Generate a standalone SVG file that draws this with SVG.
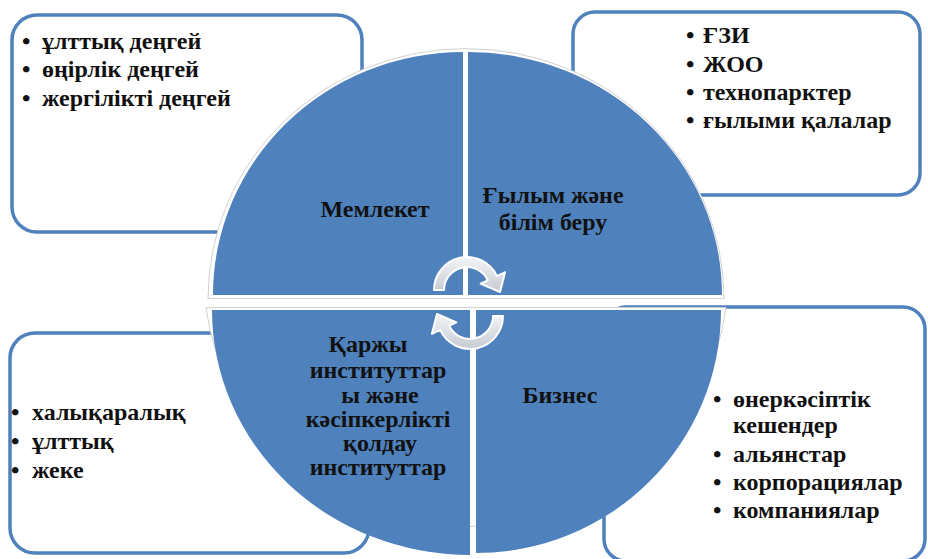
<svg xmlns="http://www.w3.org/2000/svg" width="928" height="559" viewBox="0 0 928 559" font-family="Liberation Serif, serif">
<defs>
<linearGradient id="arrowGrad" x1="0" y1="0" x2="0" y2="1">
<stop offset="0" stop-color="#f4f5f7"/>
<stop offset="1" stop-color="#c6cad2"/>
</linearGradient>
<style>
.box{fill:#ffffff;stroke:#4f81bd;stroke-width:3.5}
.quad{fill:#4f81bd}
.half{fill:#ffffff;stroke:#d2d2d2;stroke-width:1}
.arrow{fill:url(#arrowGrad);stroke:#ffffff;stroke-width:2;stroke-linejoin:round}
.t{font-weight:bold;font-size:24px;fill:#111111}
.c{text-anchor:middle}
</style>
</defs>
<rect width="928" height="559" fill="#ffffff"/>

<g id="box-top-left">
<rect class="box" x="12" y="15" width="350" height="217" rx="25"/>
<text class="t" x="22" y="49">•</text><text class="t" x="42" y="49">ұлттық деңгей</text>
<text class="t" x="22" y="77">•</text><text class="t" x="42" y="77">өңірлік деңгей</text>
<text class="t" x="22" y="106">•</text><text class="t" x="42" y="106">жергілікті деңгей</text>
</g>

<g id="box-top-right">
<rect class="box" x="573" y="12" width="347" height="183" rx="22"/>
<text class="t" x="686" y="43">•</text><text class="t" x="703" y="43">ҒЗИ</text>
<text class="t" x="686" y="72">•</text><text class="t" x="703" y="72">ЖОО</text>
<text class="t" x="686" y="100">•</text><text class="t" x="703" y="100">технопарктер</text>
<text class="t" x="686" y="128">•</text><text class="t" x="703" y="128">ғылыми қалалар</text>
</g>

<g id="box-bottom-left">
<rect class="box" x="10" y="333" width="359" height="220" rx="25"/>
<text class="t" x="11" y="420">•</text><text class="t" x="32" y="420">халықаралық</text>
<text class="t" x="11" y="449">•</text><text class="t" x="32" y="449">ұлттық</text>
<text class="t" x="11" y="478">•</text><text class="t" x="32" y="478">жеке</text>
</g>

<g id="box-bottom-right">
<rect class="box" x="604" y="307" width="321" height="254" rx="22"/>
<text class="t" x="713" y="407">•</text><text class="t" x="733" y="407">өнеркәсіптік</text>
<text class="t" x="733" y="433">кешендер</text>
<text class="t" x="713" y="462">•</text><text class="t" x="733" y="462">альянстар</text>
<text class="t" x="713" y="490">•</text><text class="t" x="733" y="490">корпорациялар</text>
<text class="t" x="713" y="518">•</text><text class="t" x="733" y="518">компаниялар</text>
</g>

<g id="circle-frames">
<path class="half" d="M 208 298.5 A 258 250 0 0 1 724 298.5 Z"/>
<path class="half" d="M 206 307.5 A 262 250 0 0 0 726 307.5 Z"/>
</g>

<g id="node-memleket">
<path class="quad" d="M 463 295 L 213 295 A 250 243 0 0 1 463 52 Z"/>
<text class="t c" x="375" y="217">Мемлекет</text>
</g>

<g id="node-gylym">
<path class="quad" d="M 468 295 L 468 52 A 254 243 0 0 1 722 295 Z"/>
<text class="t c" x="553" y="203">Ғылым және</text>
<text class="t c" x="553" y="230">білім беру</text>
</g>

<g id="node-karzhy">
<path class="quad" d="M 470 310 L 470 555 A 258 245 0 0 1 212 310 Z"/>
<text class="t c" x="368" y="352">Қаржы</text>
<text class="t c" x="378" y="378">институттар</text>
<text class="t c" x="380" y="403">ы және</text>
<text class="t c" x="378" y="427">кәсіпкерлікті</text>
<text class="t c" x="380" y="451">қолдау</text>
<text class="t c" x="378" y="475">институттар</text>
</g>

<g id="node-biznes">
<path class="quad" d="M 476 310 L 721 310 A 245 243 0 0 1 476 553 Z"/>
<text class="t c" x="560" y="403">Бизнес</text>
</g>

<g id="connectors">
<path class="arrow" d="M 434 290 A 33 33 0 0 1 496.9 276.1 L 505.1 272.2 L 500 292 L 480.6 283.7 L 487.8 280.3 A 23 23 0 0 0 444 290 Z"/>
<path class="arrow" d="M 503 316 A 33 33 0 0 1 440.1 329.9 L 431.9 333.8 L 437 314 L 456.4 322.3 L 449.2 325.7 A 23 23 0 0 0 493 316 Z"/>
</g>
</svg>
